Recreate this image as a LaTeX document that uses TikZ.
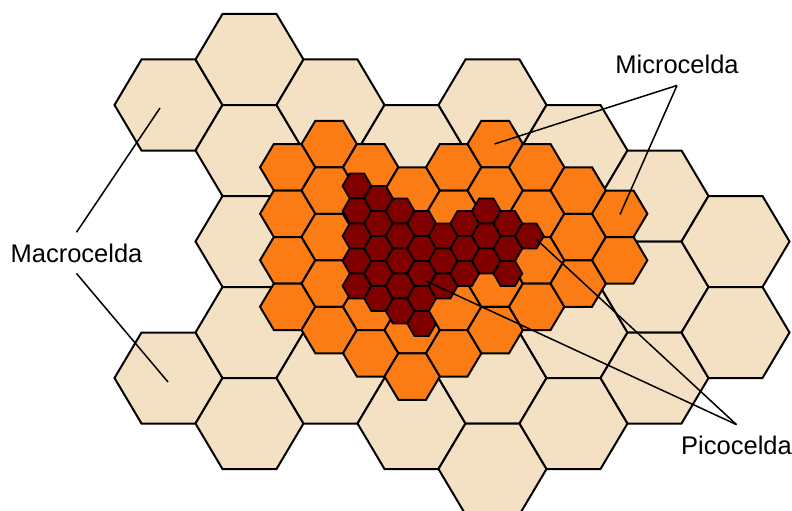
\documentclass[tikz,border=0pt]{standalone}
\usepackage{fontspec}
\setmainfont{Liberation Sans}

\definecolor{beigeMacro}{RGB}{244,225,196}
\definecolor{naranjaMicro}{RGB}{251,124,20}
\definecolor{rojoPico}{RGB}{128,0,0}

\tikzset{
  celdaMacro/.style={fill=beigeMacro, draw=black, line width=2pt},
  celdaMicro/.style={fill=naranjaMicro, draw=black, line width=2pt},
  celdaPico/.style={fill=rojoPico, draw=black, line width=1.8pt},
  etiqueta/.style={font=\fontsize{25.5}{30}\selectfont, inner sep=11pt, anchor=base},
  guia/.style={line width=1.5pt}
}

% hexagono plano: {semiancho}{semialto}{x}{y}{estilo}
\newcommand{\hexagono}[5]{%
  \draw[#5] (#3-#1,#4) -- (#3-#1/2,#4-#2) -- (#3+#1/2,#4-#2) -- (#3+#1,#4)
    -- (#3+#1/2,#4+#2) -- (#3-#1/2,#4+#2) -- cycle;}

\begin{document}
\begin{tikzpicture}[x=1pt, y=-1pt]
    \useasboundingbox (0,0) rectangle (792,511);

    % Macroceldas
    \foreach \i/\filas in {0/{1,7}, 1/{0,2,4,6,8}, 2/{1,3,5,7}, 3/{2,4,6,8},
                          4/{1,3,5,7,9}, 5/{2,4,6,8}, 6/{3,5,7}, 7/{4,6}} {
        \foreach \j in \filas {
            \pgfmathsetmacro{\cx}{168.5+81*\i}
            \pgfmathsetmacro{\cy}{59.5+45.5*\j}
            \hexagono{54}{45.5}{\cx}{\cy}{celdaMacro}
        }
    }

    % Microceldas
    \foreach \m/\filas in {0/{1,3,5,7}, 1/{0,2,4,6,8}, 2/{1,3,5,7,9}, 3/{2,4,6,8,10},
                          4/{1,3,5,7,9}, 5/{0,2,4,6,8}, 6/{1,3,5,7}, 7/{2,4,6}, 8/{3,5}} {
        \foreach \k in \filas {
            \pgfmathsetmacro{\cx}{287.7+41.5*\m}
            \pgfmathsetmacro{\cy}{144+23.25*\k}
            \hexagono{27.67}{23.25}{\cx}{\cy}{celdaMicro}
        }
    }

    % Picoceldas
    \foreach \c/\filas in {0/{0,2,4,6,8}, 1/{1,3,5,7,9}, 2/{2,4,6,8,10}, 3/{3,5,7,9,11},
                          4/{4,6,8}, 5/{3,5,7}, 6/{2,4,6}, 7/{3,5,7}, 8/{4}} {
        \foreach \r in \filas {
            \pgfmathsetmacro{\cx}{357+21.55*\c}
            \pgfmathsetmacro{\cy}{186+12.5*\r}
            \hexagono{14.37}{12.5}{\cx}{\cy}{celdaPico}
        }
    }

    % Etiquetas
    \node[etiqueta] (macrocelda) at (76.5,262) {Macrocelda};
    \node[etiqueta] (microcelda) at (677,74) {Microcelda};
    \node[etiqueta] (picocelda) at (736.5,454.3) {Picocelda};

    % Puntos señalados
    \coordinate (macroA) at (160,108);
    \coordinate (macroB) at (168,382);
    \coordinate (microA) at (494.5,144);
    \coordinate (microB) at (620,214.5);
    \coordinate (picoA) at (536,239);
    \coordinate (picoB) at (426,281);

    \draw[guia] (macrocelda.north) -- (macroA);
    \draw[guia] (macrocelda.south) -- (macroB);
    \draw[guia] (microcelda.south) -- (microA);
    \draw[guia] (microcelda.south) -- (microB);
    \draw[guia] (picocelda.north) -- (picoA);
    \draw[guia] (picocelda.north) -- (picoB);
\end{tikzpicture}
\end{document}
